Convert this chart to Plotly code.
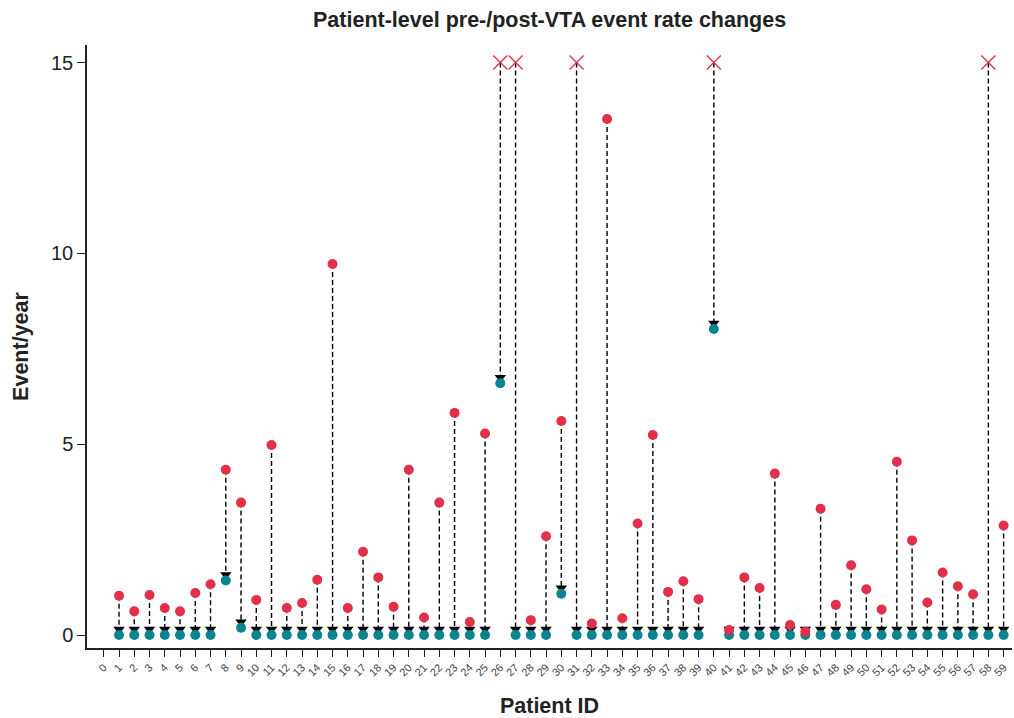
import plotly.graph_objects as go

patients = list(range(1, 60))
pre = [1.03, 0.62, 1.05, 0.71, 0.62, 1.10, 1.33, 4.33, 3.47, 0.92,
       4.98, 0.71, 0.84, 1.45, 9.72, 0.71, 2.18, 1.51, 0.74, 4.33,
       0.46, 3.47, 5.82, 0.34, 5.28, None, None, 0.39, 2.59, 5.61,
       None, 0.30, 13.52, 0.44, 2.92, 5.24, 1.13, 1.41, 0.94, None,
       0.13, 1.51, 1.23, 4.23, 0.26, 0.09, 3.31, 0.79, 1.83, 1.20,
       0.67, 4.54, 2.48, 0.85, 1.64, 1.28, 1.07, None, 2.87]
post = [0, 0, 0, 0, 0, 0, 0, 1.43, 0.19, 0,
        0, 0, 0, 0, 0, 0, 0, 0, 0, 0,
        0, 0, 0, 0, 0, 6.60, 0, 0, 0, 1.08,
        0, 0, 0, 0, 0, 0, 0, 0, 0, 8.02,
        0, 0, 0, 0, 0, 0, 0, 0, 0, 0,
        0, 0, 0, 0, 0, 0, 0, 0, 0]
cap = 15
tick_vals = list(range(0, 60))
arrow_off = 0.15

RED = "#e0304a"
TEAL = "#098592"
FONT = "Liberation Sans, Arial, sans-serif"

top = [cap if p is None else p for p in pre]
head = [q + arrow_off for q in post]

lx, ly = [], []
for x, t, h in zip(patients, top, head):
    lx += [x, x, None]
    ly += [t, h, None]

fig = go.Figure()
fig.add_trace(go.Scatter(x=lx, y=ly, mode="lines",
                         line=dict(color="black", width=1.4, dash="5px,3px"),
                         hoverinfo="skip", showlegend=False))
fig.add_trace(go.Scatter(x=patients, y=head, mode="markers",
                         marker=dict(symbol="triangle-down", size=10, color="black"),
                         showlegend=False))
fig.add_trace(go.Scatter(x=patients, y=post, mode="markers",
                         marker=dict(symbol="circle", size=10, color=TEAL),
                         showlegend=False))
fig.add_trace(go.Scatter(x=[x for x, p in zip(patients, pre) if p is not None],
                         y=[p for p in pre if p is not None], mode="markers",
                         marker=dict(symbol="circle", size=10, color=RED),
                         showlegend=False))
fig.add_trace(go.Scatter(x=[x for x, p in zip(patients, pre) if p is None],
                         y=[cap for p in pre if p is None], mode="markers",
                         marker=dict(symbol="x-thin", size=14, color=RED,
                                     line=dict(color=RED, width=1.3)),
                         showlegend=False))

fig.update_layout(
    width=1014, height=718,
    margin=dict(l=87, r=2, t=45, b=70, autoexpand=False),
    paper_bgcolor="white", plot_bgcolor="white",
    font=dict(family=FONT, color="#222"),
    title=dict(text="<b>Patient-level pre-/post-VTA event rate changes</b>",
               x=0.542, xanchor="center", y=0.973, yanchor="middle",
               automargin=False,
               font=dict(size=21.5, family=FONT, color="#222")),
    xaxis=dict(range=[-1.1, 59.55], tickmode="array", tickvals=tick_vals,
               ticktext=[str(v) for v in tick_vals], tickangle=-45,
               tickfont=dict(size=11, color="#444"), ticks="outside", ticklen=7,
               tickcolor="#222", showline=True, linecolor="#222", linewidth=1.5,
               showgrid=False, zeroline=False, automargin=False,
               title=dict(text="<b>Patient ID</b>", font=dict(size=21.5), standoff=21)),
    yaxis=dict(range=[-0.34, 15.46], tickvals=[0, 5, 10, 15],
               tickfont=dict(size=20, color="#222"), ticks="outside", ticklen=8,
               tickcolor="#222", showline=True, linecolor="#222", linewidth=1.5,
               showgrid=False, zeroline=False, automargin=False,
               title=dict(text="<b>Event/year</b>", font=dict(size=21.5), standoff=16)),
)

fig.write_html("out.html", config={"displayModeBar": False},
               post_script="document.body.style.margin='0';document.body.style.overflow='hidden';")
